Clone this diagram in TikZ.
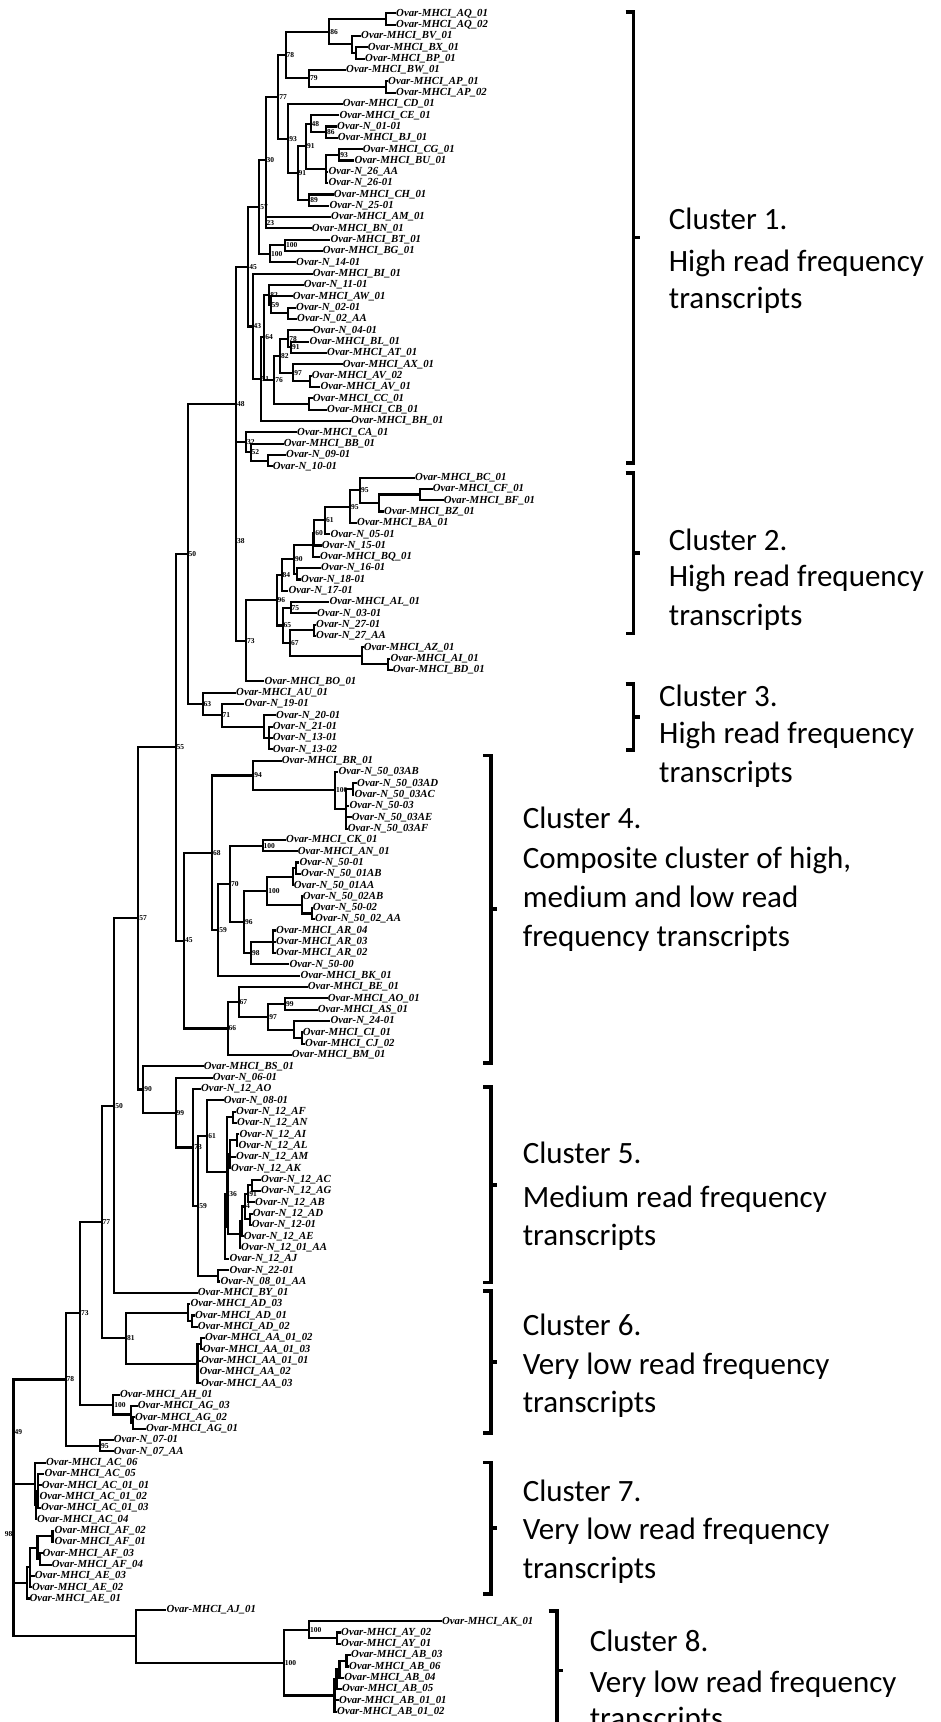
\documentclass[tikz,border=0pt]{standalone}
\usepackage{fontspec}
\setmainfont{Liberation Serif}
\newfontfamily\clusterfont{Carlito}
\usetikzlibrary{calc}

\tikzset{
  taxon/.style={anchor=west, inner sep=1pt, font=\bfseries\itshape\fontsize{10.8}{11}\selectfont},
  boot/.style={anchor=west, inner sep=0.8pt, font=\bfseries\fontsize{7.5}{8}\selectfont},
  branch/.style={line width=2.1pt, line cap=rect},
  bracket/.style={line width=3.8pt},
  ctext/.style={anchor=base west, inner sep=0pt, font=\clusterfont\fontsize{31}{38}\selectfont}
}

% one leaf per row, rows are evenly spaced
\newcounter{row}
\newcommand{\leaf}[3]{\stepcounter{row}%
  \node[taxon] (#1) at (#2,{13.3+(\therow-1)*11.323}) {#3};}
% internal node: name, x, first child, last child, support value
\newcommand{\clade}[5]{%
  \path let \p1=($(#3)!0.5!(#4)$) in coordinate (#1) at (#2pt,\y1);
  \node[boot] (#1-bs) at (#1) {#5};}
\newcommand{\kids}[2]{\foreach \c in {#2}{\draw[branch] (#1) |- (\c);}}
\newcommand{\clusterline}[4]{\node[ctext] (#1) at (#2,#3) {#4};}

\begin{document}
\begin{tikzpicture}[x=1pt, y=-1pt]
\useasboundingbox (0,0) rectangle (941,1722);

% ---- leaves
\leaf{aq1}{395}{Ovar-MHCI\_AQ\_01}
\leaf{aq2}{395}{Ovar-MHCI\_AQ\_02}
\leaf{bv}{360}{Ovar-MHCI\_BV\_01}
\leaf{bx}{366.7}{Ovar-MHCI\_BX\_01}
\leaf{bp}{364}{Ovar-MHCI\_BP\_01}
\leaf{bw}{345}{Ovar-MHCI\_BW\_01}
\leaf{ap1}{387}{Ovar-MHCI\_AP\_01}
\leaf{ap2}{395}{Ovar-MHCI\_AP\_02}
\leaf{cd}{341.7}{Ovar-MHCI\_CD\_01}
\leaf{ce}{338.3}{Ovar-MHCI\_CE\_01}
\leaf{n0101}{336}{Ovar-N\_01-01}
\leaf{bj}{336.7}{Ovar-MHCI\_BJ\_01}
\leaf{cg}{361.7}{Ovar-MHCI\_CG\_01}
\leaf{bu}{353.3}{Ovar-MHCI\_BU\_01}
\leaf{n26aa}{327.3}{Ovar-N\_26\_AA}
\leaf{n2601}{327.3}{Ovar-N\_26-01}
\leaf{ch}{332.7}{Ovar-MHCI\_CH\_01}
\leaf{n2501}{328.3}{Ovar-N\_25-01}
\leaf{am}{330}{Ovar-MHCI\_AM\_01}
\leaf{bn}{310.7}{Ovar-MHCI\_BN\_01}
\leaf{bt}{329.3}{Ovar-MHCI\_BT\_01}
\leaf{bg}{321.7}{Ovar-MHCI\_BG\_01}
\leaf{n1401}{295}{Ovar-N\_14-01}
\leaf{bi}{311.7}{Ovar-MHCI\_BI\_01}
\leaf{n1101}{302.7}{Ovar-N\_11-01}
\leaf{aw}{291.7}{Ovar-MHCI\_AW\_01}
\leaf{n0201}{295}{Ovar-N\_02-01}
\leaf{n02aa}{296}{Ovar-N\_02\_AA}
\leaf{n0401}{311.7}{Ovar-N\_04-01}
\leaf{bl}{308.3}{Ovar-MHCI\_BL\_01}
\leaf{at}{326}{Ovar-MHCI\_AT\_01}
\leaf{ax}{341.7}{Ovar-MHCI\_AX\_01}
\leaf{av2}{310.7}{Ovar-MHCI\_AV\_02}
\leaf{av1}{319.3}{Ovar-MHCI\_AV\_01}
\leaf{cc}{311.7}{Ovar-MHCI\_CC\_01}
\leaf{cb}{326}{Ovar-MHCI\_CB\_01}
\leaf{bh}{350}{Ovar-MHCI\_BH\_01}
\leaf{ca}{296}{Ovar-MHCI\_CA\_01}
\leaf{bb}{282.7}{Ovar-MHCI\_BB\_01}
\leaf{n0901}{285}{Ovar-N\_09-01}
\leaf{n1001}{271.7}{Ovar-N\_10-01}
\leaf{bc}{414}{Ovar-MHCI\_BC\_01}
\leaf{cf}{431.7}{Ovar-MHCI\_CF\_01}
\leaf{bf}{442.7}{Ovar-MHCI\_BF\_01}
\leaf{bz}{383}{Ovar-MHCI\_BZ\_01}
\leaf{ba}{356}{Ovar-MHCI\_BA\_01}
\leaf{n0501}{329.3}{Ovar-N\_05-01}
\leaf{n1501}{320.7}{Ovar-N\_15-01}
\leaf{bq}{319}{Ovar-MHCI\_BQ\_01}
\leaf{n1601}{320}{Ovar-N\_16-01}
\leaf{n1801}{300}{Ovar-N\_18-01}
\leaf{n1701}{287.3}{Ovar-N\_17-01}
\leaf{al}{328.3}{Ovar-MHCI\_AL\_01}
\leaf{n0301}{316}{Ovar-N\_03-01}
\leaf{n2701}{315}{Ovar-N\_27-01}
\leaf{n27aa}{315}{Ovar-N\_27\_AA}
\leaf{az}{362.7}{Ovar-MHCI\_AZ\_01}
\leaf{ai}{389.3}{Ovar-MHCI\_AI\_01}
\leaf{bd}{391.7}{Ovar-MHCI\_BD\_01}
\leaf{bo}{263.3}{Ovar-MHCI\_BO\_01}
\leaf{au}{235}{Ovar-MHCI\_AU\_01}
\leaf{n1901}{243.3}{Ovar-N\_19-01}
\leaf{n2001}{275}{Ovar-N\_20-01}
\leaf{n2101}{271.7}{Ovar-N\_21-01}
\leaf{n1301}{271.7}{Ovar-N\_13-01}
\leaf{n1302}{271.7}{Ovar-N\_13-02}
\leaf{br}{280.7}{Ovar-MHCI\_BR\_01}
\leaf{n5003ab}{337.3}{Ovar-N\_50\_03AB}
\leaf{n5003ad}{356}{Ovar-N\_50\_03AD}
\leaf{n5003ac}{353.3}{Ovar-N\_50\_03AC}
\leaf{n5003}{348.3}{Ovar-N\_50-03}
\leaf{n5003ae}{350.7}{Ovar-N\_50\_03AE}
\leaf{n5003af}{346.7}{Ovar-N\_50\_03AF}
\leaf{ck}{285}{Ovar-MHCI\_CK\_01}
\leaf{an}{296.7}{Ovar-MHCI\_AN\_01}
\leaf{n5001}{298.3}{Ovar-N\_50-01}
\leaf{n5001ab}{300}{Ovar-N\_50\_01AB}
\leaf{n5001aa}{292.7}{Ovar-N\_50\_01AA}
\leaf{n5002ab}{301.7}{Ovar-N\_50\_02AB}
\leaf{n5002}{311.7}{Ovar-N\_50-02}
\leaf{n5002aa}{314}{Ovar-N\_50\_02\_AA}
\leaf{ar4}{275}{Ovar-MHCI\_AR\_04}
\leaf{ar3}{275}{Ovar-MHCI\_AR\_03}
\leaf{ar2}{275}{Ovar-MHCI\_AR\_02}
\leaf{n5000}{288.3}{Ovar-N\_50-00}
\leaf{bk}{299.3}{Ovar-MHCI\_BK\_01}
\leaf{be}{306.7}{Ovar-MHCI\_BE\_01}
\leaf{ao}{326.7}{Ovar-MHCI\_AO\_01}
\leaf{as}{316.7}{Ovar-MHCI\_AS\_01}
\leaf{n2401}{329.3}{Ovar-N\_24-01}
\leaf{ci}{301.7}{Ovar-MHCI\_CI\_01}
\leaf{cj}{304}{Ovar-MHCI\_CJ\_02}
\leaf{bm}{290.7}{Ovar-MHCI\_BM\_01}
\leaf{bs}{202.7}{Ovar-MHCI\_BS\_01}
\leaf{n0601}{211.7}{Ovar-N\_06-01}
\leaf{n12ao}{200}{Ovar-N\_12\_AO}
\leaf{n0801}{222.7}{Ovar-N\_08-01}
\leaf{n12af}{235}{Ovar-N\_12\_AF}
\leaf{n12an}{236}{Ovar-N\_12\_AN}
\leaf{n12ai}{238.3}{Ovar-N\_12\_AI}
\leaf{n12al}{237.3}{Ovar-N\_12\_AL}
\leaf{n12am}{235}{Ovar-N\_12\_AM}
\leaf{n12ak}{230}{Ovar-N\_12\_AK}
\leaf{n12ac}{260}{Ovar-N\_12\_AC}
\leaf{n12ag}{260}{Ovar-N\_12\_AG}
\leaf{n12ab}{254}{Ovar-N\_12\_AB}
\leaf{n12ad}{251.7}{Ovar-N\_12\_AD}
\leaf{n1201}{250.7}{Ovar-N\_12-01}
\leaf{n12ae}{242.7}{Ovar-N\_12\_AE}
\leaf{n1201aa}{240}{Ovar-N\_12\_01\_AA}
\leaf{n12aj}{228.3}{Ovar-N\_12\_AJ}
\leaf{n2201}{228.3}{Ovar-N\_22-01}
\leaf{n0801aa}{219.3}{Ovar-N\_08\_01\_AA}
\leaf{by}{196.7}{Ovar-MHCI\_BY\_01}
\leaf{ad3}{189.3}{Ovar-MHCI\_AD\_03}
\leaf{ad1}{194}{Ovar-MHCI\_AD\_01}
\leaf{ad2}{196.7}{Ovar-MHCI\_AD\_02}
\leaf{aa0102}{204}{Ovar-MHCI\_AA\_01\_02}
\leaf{aa0103}{201.7}{Ovar-MHCI\_AA\_01\_03}
\leaf{aa0101}{200}{Ovar-MHCI\_AA\_01\_01}
\leaf{aa2}{198.3}{Ovar-MHCI\_AA\_02}
\leaf{aa3}{200}{Ovar-MHCI\_AA\_03}
\leaf{ah}{119}{Ovar-MHCI\_AH\_01}
\leaf{ag3}{136.7}{Ovar-MHCI\_AG\_03}
\leaf{ag2}{134}{Ovar-MHCI\_AG\_02}
\leaf{ag1}{145}{Ovar-MHCI\_AG\_01}
\leaf{n0701}{112.7}{Ovar-N\_07-01}
\leaf{n07aa}{112.7}{Ovar-N\_07\_AA}
\leaf{ac6}{45}{Ovar-MHCI\_AC\_06}
\leaf{ac5}{43.3}{Ovar-MHCI\_AC\_05}
\leaf{ac0101}{40.7}{Ovar-MHCI\_AC\_01\_01}
\leaf{ac0102}{38.3}{Ovar-MHCI\_AC\_01\_02}
\leaf{ac0103}{40}{Ovar-MHCI\_AC\_01\_03}
\leaf{ac4}{36}{Ovar-MHCI\_AC\_04}
\leaf{af2}{53.4}{Ovar-MHCI\_AF\_02}
\leaf{af1}{53.4}{Ovar-MHCI\_AF\_01}
\leaf{af3}{41.5}{Ovar-MHCI\_AF\_03}
\leaf{af4}{50.6}{Ovar-MHCI\_AF\_04}
\leaf{ae3}{33.6}{Ovar-MHCI\_AE\_03}
\leaf{ae2}{30.8}{Ovar-MHCI\_AE\_02}
\leaf{ae1}{28.5}{Ovar-MHCI\_AE\_01}
\leaf{aj}{165.3}{Ovar-MHCI\_AJ\_01}
\leaf{ak}{440.9}{Ovar-MHCI\_AK\_01}
\leaf{ay2}{340}{Ovar-MHCI\_AY\_02}
\leaf{ay1}{340}{Ovar-MHCI\_AY\_01}
\leaf{ab3}{350}{Ovar-MHCI\_AB\_03}
\leaf{ab6}{348}{Ovar-MHCI\_AB\_06}
\leaf{ab4}{343.2}{Ovar-MHCI\_AB\_04}
\leaf{ab5}{340.8}{Ovar-MHCI\_AB\_05}
\leaf{ab0101}{338}{Ovar-MHCI\_AB\_01\_01}
\leaf{ab0102}{336}{Ovar-MHCI\_AB\_01\_02}

% ---- cluster 1
\clade{aqn}{385.7}{aq1}{aq2}{}      \kids{aqn}{aq1,aq2}
\clade{bxp}{356}{bx}{bp}{}          \kids{bxp}{bx,bp}
\clade{bvx}{351.7}{bv}{bxp}{}       \kids{bvx}{bv,bxp}
\clade{s86}{329.3}{aqn}{bvx}{86}    \kids{s86}{aqn,bvx}
\clade{apn}{385.7}{ap1}{ap2}{}      \kids{apn}{ap1,ap2}
\clade{s79}{309}{bw}{apn}{79}       \kids{s79}{bw,apn}
\clade{s78}{285.7}{s86}{s79}{78}    \kids{s78}{s86,s79}
\clade{s86b}{326}{n0101}{bj}{86}    \kids{s86b}{n0101,bj}
\clade{s48}{310.7}{ce}{s86b}{48}    \kids{s48}{ce,s86b}
\clade{s93b}{339.3}{cg}{bu}{93}     \kids{s93b}{cg,bu}
\clade{nx}{326}{s93b}{n2601}{}      \kids{nx}{s93b,n26aa,n2601}
\clade{s91u}{306}{s48}{nx}{91}      \kids{s91u}{s48,nx}
\clade{s89}{309.3}{ch}{n2501}{89}   \kids{s89}{ch,n2501}
\clade{s91l}{297.7}{s91u}{s89}{91}  \kids{s91l}{s91u,s89}
\clade{s93}{288.3}{cd}{s91l}{93}    \kids{s93}{cd,s91l}
\clade{s77}{278.3}{s78}{s93}{77}    \kids{s77}{s78,s93}
\clade{s23}{265.7}{am}{bn}{23}      \kids{s23}{am,bn}
\clade{s30}{265.7}{s77}{s23}{30}    \kids{s30}{s77,s23}
\clade{s100u}{285}{bt}{bg}{100}     \kids{s100u}{bt,bg}
\clade{s100l}{270}{s100u}{n1401}{100} \kids{s100l}{s100u,n1401}
\clade{s57}{259.3}{s30}{s100l}{57}  \kids{s57}{s30,s100l}
\clade{n02}{288.3}{n0201}{n02aa}{}  \kids{n02}{n0201,n02aa}
\clade{s59}{270.7}{aw}{n02}{59}     \kids{s59}{aw,n02}
\clade{s82a}{269.3}{n1101}{s59}{82} \kids{s82a}{n1101,s59}
\clade{s91c}{291}{bl}{at}{91}       \kids{s91c}{bl,at}
\clade{s78b}{288.3}{n0401}{s91c}{78} \kids{s78b}{n0401,s91c}
\clade{avn}{310}{av2}{av1}{}        \kids{avn}{av2,av1}
\clade{s97}{293.3}{ax}{avn}{97}     \kids{s97}{ax,avn}
\clade{s82b}{280}{s78b}{s97}{82}    \kids{s82b}{s78b,s97}
\clade{ccn}{309.3}{cc}{cb}{}        \kids{ccn}{cc,cb}
\clade{s76}{274.3}{s82b}{ccn}{76}   \kids{s76}{s82b,ccn}
\clade{s64}{264.3}{s82a}{s76}{64}   \kids{s64}{s82a,s76}
\clade{s51}{260.7}{s64}{bh}{51}     \kids{s51}{s64,bh}
\clade{s43}{252.7}{bi}{s51}{43}     \kids{s43}{bi,s51}
\clade{s45}{248.3}{s57}{s43}{45}    \kids{s45}{s57,s43}
\clade{n0910}{268.3}{n0901}{n1001}{} \kids{n0910}{n0901,n1001}
\clade{s52}{250.7}{bb}{n0910}{52}   \kids{s52}{bb,n0910}
\clade{s32}{246}{ca}{s52}{32}       \kids{s32}{ca,s52}

% ---- cluster 2
\clade{cfbf}{420}{cf}{bf}{}         \kids{cfbf}{cf,bf}
\clade{czn}{379.3}{cfbf}{bz}{}      \kids{czn}{cfbf,bz}
\clade{s95a}{360}{bc}{czn}{95}      \kids{s95a}{bc,czn}
\clade{s95b}{350}{s95a}{ba}{95}     \kids{s95b}{s95a,ba}
\clade{s61}{325}{s95b}{n0501}{61}   \kids{s61}{s95b,n0501}
\clade{s60}{314.3}{s61}{n1501}{60}  \kids{s60}{s61,n1501}
\clade{nb}{313.3}{s60}{bq}{}        \kids{nb}{s60,bq}
\clade{n1618}{297.3}{n1601}{n1801}{} \kids{n1618}{n1601,n1801}
\clade{s90c}{294}{nb}{n1618}{90}    \kids{s90c}{nb,n1618}
\clade{s84}{281.7}{s90c}{n1701}{84} \kids{s84}{s90c,n1701}
\clade{s75}{290.7}{al}{n0301}{75}   \kids{s75}{al,n0301}
\clade{n27}{314}{n2701}{n27aa}{}    \kids{n27}{n2701,n27aa}
\clade{aibd}{387.7}{ai}{bd}{}       \kids{aibd}{ai,bd}
\clade{azn}{361.7}{az}{aibd}{}      \kids{azn}{az,aibd}
\clade{s67}{290}{n27}{azn}{67}      \kids{s67}{n27,azn}
\clade{s65}{282.7}{s75}{s67}{65}    \kids{s65}{s75,s67}
\clade{s96}{276.7}{s84}{s65}{96}    \kids{s96}{s84,s65}
\clade{s73}{246}{s96}{bo}{73}       \kids{s73}{s96,bo}
\clade{s38}{236}{s32}{s73}{38}      \kids{s38}{s32,s73}
\clade{s48b}{236}{s45}{s38}{48}     \kids{s48b}{s45,s38}

% ---- cluster 3
\clade{n2113}{269.3}{n2101}{n1302}{} \kids{n2113}{n2101,n1301,n1302}
\clade{n20}{264}{n2001}{n2113}{}    \kids{n20}{n2001,n2113}
\clade{s71}{221.7}{n1901}{n20}{71}  \kids{s71}{n1901,n20}
\clade{s63}{202.7}{au}{s71}{63}     \kids{s63}{au,s71}
\clade{s50u}{187.7}{s48b}{s63}{50}  \kids{s50u}{s48b,s63}

% ---- cluster 4
\clade{adac}{353.3}{n5003ad}{n5003ac}{} \kids{adac}{n5003ad,n5003ac}
\clade{n503s}{345.7}{adac}{n5003af}{}   \kids{n503s}{adac,n5003,n5003ae,n5003af}
\clade{s100c}{335}{n5003ab}{n503s}{100} \kids{s100c}{n5003ab,n503s}
\clade{s94}{253.3}{br}{s100c}{94}   \kids{s94}{br,s100c}
\clade{s100d}{262.7}{ck}{an}{100}   \kids{s100d}{ck,an}
\clade{n5001s}{296}{n5001}{n5001ab}{} \kids{n5001s}{n5001,n5001ab}
\clade{n5001n}{292.7}{n5001s}{n5001aa}{} \kids{n5001n}{n5001s,n5001aa}
\clade{n5002s}{311.7}{n5002}{n5002aa}{} \kids{n5002s}{n5002,n5002aa}
\clade{n5002n}{301.7}{n5002ab}{n5002s}{} \kids{n5002n}{n5002ab,n5002s}
\clade{s100e}{267.3}{n5001n}{n5002n}{100} \kids{s100e}{n5001n,n5002n}
\clade{arn}{273.3}{ar4}{ar2}{}      \kids{arn}{ar4,ar3,ar2}
\clade{s98}{251}{arn}{n5000}{98}    \kids{s98}{arn,n5000}
\clade{s96b}{244}{s100e}{s98}{96}   \kids{s96b}{s100e,s98}
\clade{s70}{230}{s100d}{s96b}{70}   \kids{s70}{s100d,s96b}
\clade{s59b}{218.3}{s70}{bk}{59}    \kids{s59b}{s70,bk}
\clade{s68}{212}{s94}{s59b}{68}     \kids{s68}{s94,s59b}
\clade{s99b}{285}{ao}{as}{99}       \kids{s99b}{ao,as}
\clade{cij}{301.7}{ci}{cj}{}        \kids{cij}{ci,cj}
\clade{n24}{294}{n2401}{cij}{}      \kids{n24}{n2401,cij}
\clade{s97b}{268.3}{s99b}{n24}{97}  \kids{s97b}{s99b,n24}
\clade{s67b}{238.7}{be}{s97b}{67}   \kids{s67b}{be,s97b}
\clade{s66}{227.7}{s67b}{bm}{66}    \kids{s66}{s67b,bm}
\clade{s45b}{184}{s68}{s66}{45}     \kids{s45b}{s68,s66}
\clade{s55}{175.7}{s50u}{s45b}{55}  \kids{s55}{s50u,s45b}

% ---- cluster 5
\clade{afan}{233.3}{n12af}{n12an}{} \kids{afan}{n12af,n12an}
\clade{aial}{236.7}{n12ai}{n12al}{} \kids{aial}{n12ai,n12al}
\clade{akn}{230}{aial}{n12ak}{}     \kids{akn}{aial,n12am,n12ak}
\clade{acg}{252}{n12ac}{n12ag}{}    \kids{acg}{n12ac,n12ag}
\clade{s91d}{248.3}{acg}{n12ab}{91} \kids{s91d}{acg,n12ab}
\clade{ad01}{250}{n12ad}{n1201}{}   \kids{ad01}{n12ad,n1201}
\clade{s4}{245}{s91d}{ad01}{4}      \kids{s4}{s91d,ad01}
\clade{aen}{242}{s4}{n12ae}{}       \kids{aen}{s4,n12ae}
\clade{aan}{240}{aen}{n1201aa}{}    \kids{aan}{aen,n1201aa}
\clade{s36}{228.3}{akn}{aan}{36}    \kids{s36}{akn,aan}
\clade{xb}{225}{s36}{n12aj}{}       \kids{xb}{s36,n12aj}
\clade{xa}{226.7}{afan}{xb}{}       \kids{xa}{afan,xb}
\clade{s61b}{207.3}{n0801}{xa}{61}  \kids{s61b}{n0801,xa}
\clade{n2208}{218.3}{n2201}{n0801aa}{} \kids{n2208}{n2201,n0801aa}
\clade{s59c}{198.3}{s61b}{n2208}{59} \kids{s59c}{s61b,n2208}
\clade{s73b}{193.3}{n12ao}{s59c}{73} \kids{s73b}{n12ao,s59c}
\clade{s99}{175.7}{n0601}{s73b}{99} \kids{s99}{n0601,s73b}
\clade{s90}{143.3}{bs}{s99}{90}     \kids{s90}{bs,s99}
\clade{s57b}{138.3}{s55}{s90}{57}   \kids{s57b}{s55,s90}
\clade{s50l}{114.3}{s57b}{by}{50}   \kids{s50l}{s57b,by}

% ---- cluster 6
\clade{ad12}{191.7}{ad1}{ad2}{}     \kids{ad12}{ad1,ad2}
\clade{adn}{188.3}{ad3}{ad12}{}     \kids{adn}{ad3,ad12}
\clade{aa1}{201}{aa0102}{aa0103}{}  \kids{aa1}{aa0102,aa0103}
\clade{aa6}{197.5}{aa1}{aa3}{}      \kids{aa6}{aa1,aa0101,aa2,aa3}
\clade{s81}{126}{adn}{aa6}{81}      \kids{s81}{adn,aa6}
\clade{s77b}{101.7}{s50l}{s81}{77}  \kids{s77b}{s50l,s81}
\clade{ag12}{133.3}{ag2}{ag1}{}     \kids{ag12}{ag2,ag1}
\clade{agn}{131}{ag3}{ag12}{}       \kids{agn}{ag3,ag12}
\clade{s100f}{113.3}{ah}{agn}{100}  \kids{s100f}{ah,agn}
\clade{s73c}{80}{s77b}{s100f}{73}   \kids{s73c}{s77b,s100f}
\clade{s95c}{100}{n0701}{n07aa}{95} \kids{s95c}{n0701,n07aa}
\clade{s78c}{65.7}{s73c}{s95c}{78}  \kids{s78c}{s73c,s95c}

% ---- cluster 7
\clade{acs}{38.3}{ac5}{ac0103}{}    \kids{acs}{ac5,ac0101,ac0102,ac0103}
\clade{acb}{36}{acs}{ac4}{}         \kids{acb}{acs,ac4}
\clade{aca}{35}{ac6}{acb}{}         \kids{aca}{ac6,acb}
\clade{s49}{13.5}{s78c}{aca}{49}    \kids{s49}{s78c,aca}
\clade{afa}{52.5}{af2}{af1}{}       \kids{afa}{af2,af1}
\clade{afb}{40}{af3}{af4}{}         \kids{afb}{af3,af4}
\clade{afc}{37.5}{afa}{afb}{}       \kids{afc}{afa,afb}
\clade{aed}{29.7}{afc}{ae2}{}       \kids{aed}{afc,ae3,ae2}
\clade{afae}{27}{aed}{ae1}{}        \kids{afae}{aed,ae1}

% ---- cluster 8
\clade{ayn}{336.9}{ay2}{ay1}{}      \kids{ayn}{ay2,ay1}
\clade{s100g}{309.2}{ak}{ayn}{100}  \kids{s100g}{ak,ayn}
\clade{ab36}{346.5}{ab3}{ab6}{}     \kids{ab36}{ab3,ab6}
\clade{aba}{339.5}{ab36}{ab4}{}     \kids{aba}{ab36,ab4}
\clade{abb}{336.5}{aba}{ab5}{}      \kids{abb}{aba,ab5}
\clade{abc}{334.5}{abb}{ab0102}{}   \kids{abc}{abb,ab0101,ab0102}
\clade{s100h}{283.9}{s100g}{abc}{100} \kids{s100h}{s100g,abc}
\clade{ajn}{136.4}{aj}{s100h}{}     \kids{ajn}{aj,s100h}
\clade{root}{13.5}{s49}{ajn}{}      \kids{root}{s49,afae,ajn}
\node[boot, anchor=east] (root-lab) at (root) {98};

% ---- cluster brackets
\foreach \bx/\ta/\tb in {633.5/12/463, 633.5/473/633.5, 633.5/684/750,
    491/755.5/1063, 491/1087/1282.5, 491/1291/1433, 491/1462.5/1594, 556.7/1611/1730}
  \draw[bracket] (\bx-8,\ta) -- (\bx,\ta) -- (\bx,\tb) -- (\bx-8,\tb)
    (\bx,{(\ta+\tb)/2}) -- (\bx+6,{(\ta+\tb)/2});

% ---- cluster captions
\clusterline{c1a}{668.7}{229.6}{Cluster 1.}
\clusterline{c1b}{668.7}{271}{High read frequency}
\clusterline{c1c}{668.7}{308.6}{transcripts}
\clusterline{c2a}{668.7}{550}{Cluster 2.}
\clusterline{c2b}{668.7}{586.5}{High read frequency}
\clusterline{c2c}{668.7}{625}{transcripts}
\clusterline{c3a}{659}{706}{Cluster 3.}
\clusterline{c3b}{659}{743.5}{High read frequency}
\clusterline{c3c}{659}{782}{transcripts}
\clusterline{c4a}{522.6}{828}{Cluster 4.}
\clusterline{c4b}{522.6}{868.6}{Composite cluster of high,}
\clusterline{c4c}{522.6}{907}{medium and low read}
\clusterline{c4d}{522.6}{946.6}{frequency transcripts}
\clusterline{c5a}{522.6}{1163}{Cluster 5.}
\clusterline{c5b}{522.6}{1207}{Medium read frequency}
\clusterline{c5c}{522.6}{1245}{transcripts}
\clusterline{c6a}{522.6}{1335}{Cluster 6.}
\clusterline{c6b}{522.6}{1374}{Very low read frequency}
\clusterline{c6c}{522.6}{1412}{transcripts}
\clusterline{c7a}{522.6}{1501}{Cluster 7.}
\clusterline{c7b}{522.6}{1539.5}{Very low read frequency}
\clusterline{c7c}{522.6}{1578}{transcripts}
\clusterline{c8a}{589.6}{1651.5}{Cluster 8.}
\clusterline{c8b}{589.6}{1692}{Very low read frequency}
\clusterline{c8c}{589.6}{1728}{transcripts}
\end{tikzpicture}
\end{document}
